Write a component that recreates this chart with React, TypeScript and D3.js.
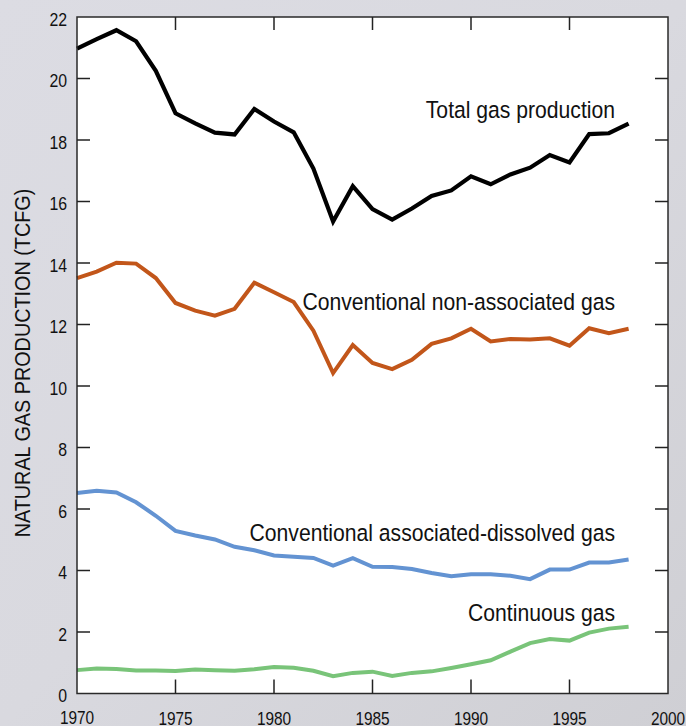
import React, { useEffect } from "react";
import * as d3 from "d3";

const years = d3.range(1970, 1999);
const totalGas = [20.97, 21.28, 21.57, 21.21, 20.25, 18.87, 18.54, 18.24, 18.18, 19.01, 18.6, 18.25, 17.07, 15.35, 16.5, 15.75, 15.41, 15.77, 16.18, 16.36, 16.82, 16.56, 16.88, 17.1, 17.51, 17.27, 18.19, 18.22, 18.53];
const nonAssociated = [13.51, 13.72, 14.01, 13.98, 13.51, 12.7, 12.45, 12.29, 12.51, 13.36, 13.05, 12.73, 11.8, 10.42, 11.33, 10.75, 10.55, 10.85, 11.37, 11.55, 11.86, 11.45, 11.53, 11.51, 11.55, 11.31, 11.88, 11.72, 11.86];
const associatedDissolved = [6.52, 6.59, 6.54, 6.22, 5.78, 5.29, 5.14, 5.01, 4.77, 4.66, 4.49, 4.45, 4.41, 4.16, 4.4, 4.12, 4.11, 4.05, 3.92, 3.81, 3.88, 3.88, 3.83, 3.72, 4.03, 4.03, 4.26, 4.26, 4.36];
const continuous = [0.76, 0.81, 0.8, 0.75, 0.75, 0.73, 0.78, 0.76, 0.74, 0.79, 0.86, 0.84, 0.74, 0.56, 0.67, 0.71, 0.57, 0.67, 0.72, 0.83, 0.95, 1.08, 1.36, 1.64, 1.77, 1.72, 1.98, 2.11, 2.17];

const yTicks = [0, 2, 4, 6, 8, 10, 12, 14, 16, 18, 20, 22];
const xTicks = [1970, 1975, 1980, 1985, 1990, 1995, 2000];

const seriesNames = ["Total gas production", "Conventional non-associated gas", "Conventional associated-dissolved gas", "Continuous gas"];
const seriesColors = ["#000000", "#c2561a", "#6393d2", "#79c479"];
const seriesValues = [totalGas, nonAssociated, associatedDissolved, continuous];
const labelBaselines = [118, 310, 540.5, 620.5];

const FONT = "'Liberation Sans', Arial, sans-serif";

function CText(props: { x: number; y: number; size: number; sx?: number; anchor?: string; rotate?: number; children: React.ReactNode }) {
  const { x, y, size, sx = 0.88, anchor = "start", rotate = 0, children } = props;
  return (
    <text
      transform={`translate(${x},${y}) rotate(${rotate}) scale(${sx},1)`}
      textAnchor={anchor}
      fontSize={size}
      fill="#111"
    >
      {children}
    </text>
  );
}

export default function App() {
  useEffect(() => {
    document.body.style.margin = "0";
  }, []);
  const W = 686, H = 726;
  const x = d3.scaleLinear().domain([1970, 2000]).range([77, 668]);
  const y = d3.scaleLinear().domain([0, 22]).range([693.5, 17]);
  const line = d3.line<number>().x((_, i) => x(years[i])).y((d) => y(d));
  const left = x(1970), right = x(2000), top = y(22), bottom = y(0);
  const tl = 13;

  return (
    <svg width={W} height={H} style={{ position: "absolute", left: 0, top: 0, display: "block" }} fontFamily={FONT}>
      <defs>
        <linearGradient id="bg" x1="0" y1="0" x2="1" y2="1">
          <stop offset="0" stopColor="#dcdce3" />
          <stop offset="0.5" stopColor="#d9d9df" />
          <stop offset="1" stopColor="#cfcfd4" />
        </linearGradient>
      </defs>
      <rect x={0} y={0} width={W} height={H} fill="url(#bg)" />
      <rect x={left} y={top} width={right - left} height={bottom - top} fill="#ffffff" />
      {seriesValues.map((vals, i) => (
        <path key={i} d={line(vals) || ""} fill="none" stroke={seriesColors[i]} strokeWidth={i === 0 ? 4.2 : 4} strokeLinejoin="miter" />
      ))}
      <rect x={left} y={top} width={right - left} height={bottom - top} fill="none" stroke="#2a2a2a" strokeWidth={1.5} />
      {yTicks.filter((t) => t > 0 && t < 22).map((t) => (
        <g key={"yt" + t}>
          <line x1={left} x2={left + tl} y1={y(t)} y2={y(t)} stroke="#222" strokeWidth={1.5} />
          <line x1={right - tl} x2={right} y1={y(t)} y2={y(t)} stroke="#222" strokeWidth={1.5} />
        </g>
      ))}
      {xTicks.filter((t) => t > 1970 && t < 2000).map((t) => (
        <g key={"xt" + t}>
          <line x1={x(t)} x2={x(t)} y1={top} y2={top + tl} stroke="#222" strokeWidth={1.5} />
          <line x1={x(t)} x2={x(t)} y1={bottom} y2={bottom - 14} stroke="#222" strokeWidth={1.5} />
        </g>
      ))}
      {yTicks.map((t) => (
        <CText key={"yl" + t} x={67} y={y(t) + 8.5} size={18} anchor="end">{t}</CText>
      ))}
      {xTicks.map((t) => (
        <CText key={"xl" + t} x={x(t)} y={t === 1970 ? 723.5 : 724.5} size={17.5} anchor="middle">{t}</CText>
      ))}
      <CText x={30} y={363} size={22.5} anchor="middle" rotate={-90}>NATURAL GAS PRODUCTION (TCFG)</CText>
      {seriesNames.map((n, i) => (
        <CText key={"sl" + i} x={615} y={labelBaselines[i]} size={23.5} sx={0.9} anchor="end">{n}</CText>
      ))}
    </svg>
  );
}
